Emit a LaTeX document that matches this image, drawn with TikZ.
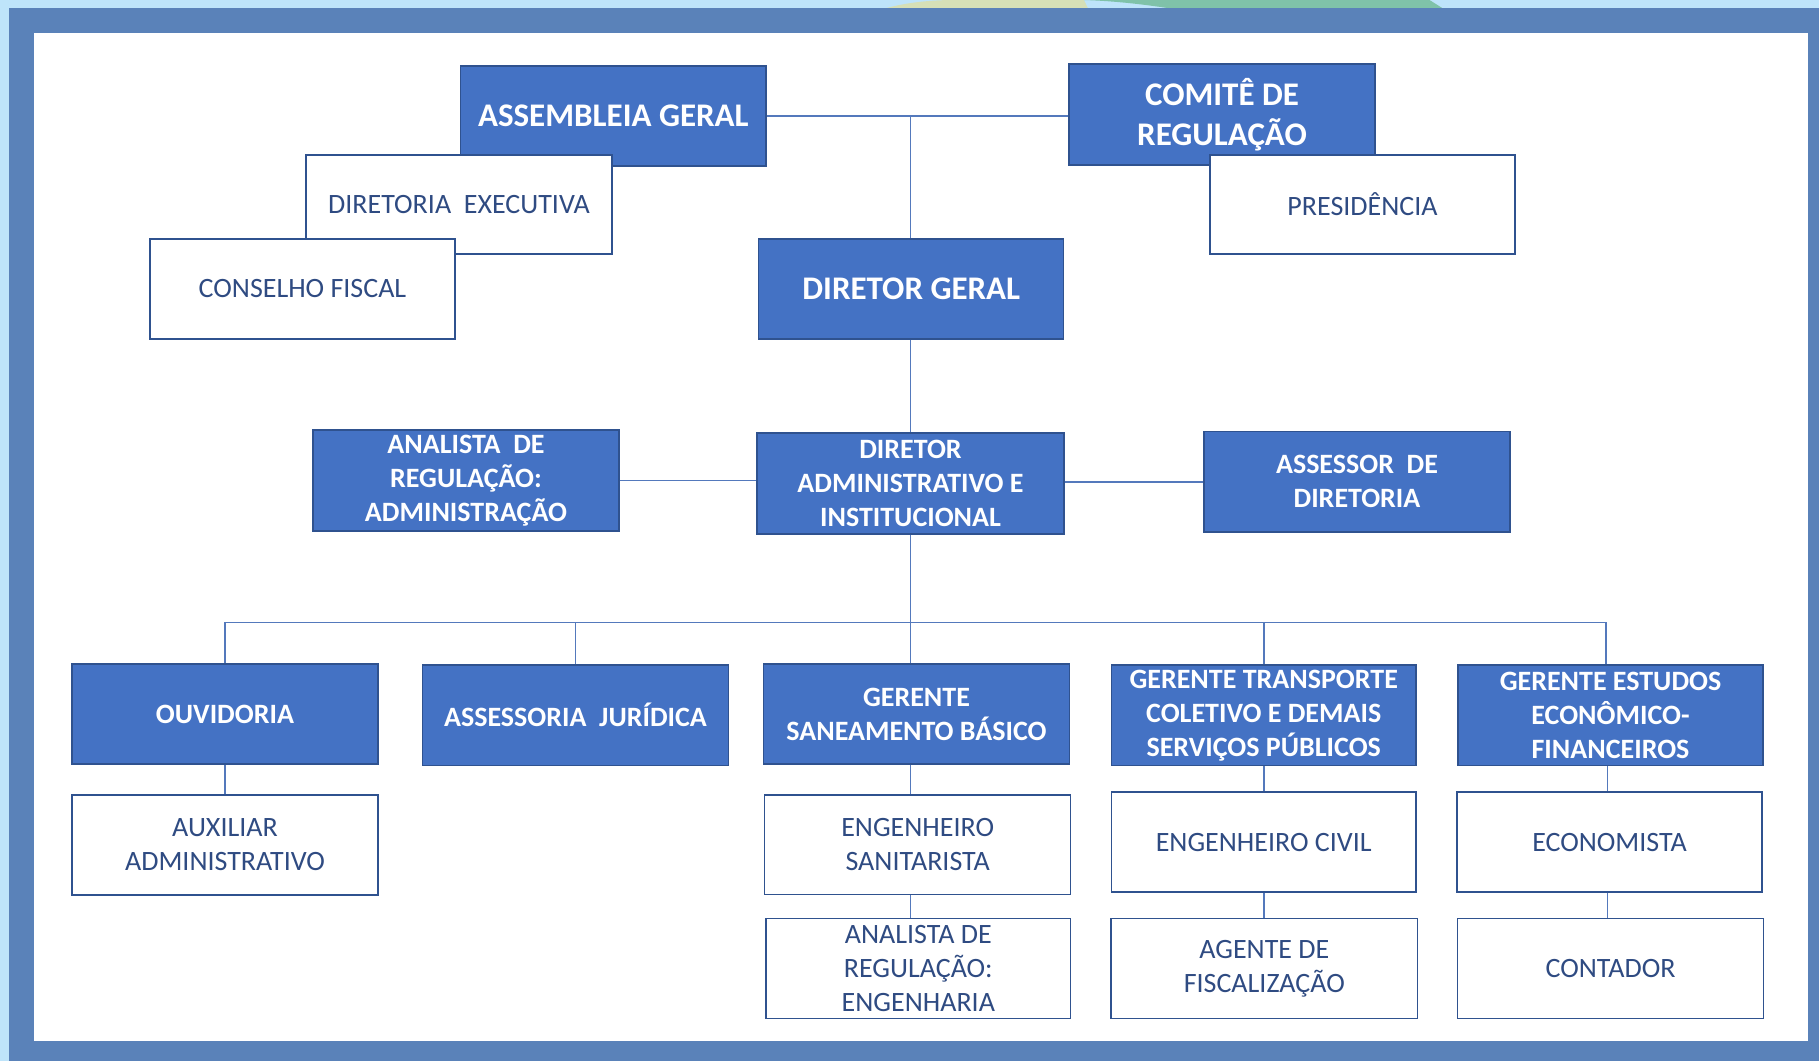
\documentclass[tikz,border=0pt]{standalone}
\usepackage{fontspec}
\setmainfont{Carlito}
\definecolor{bgsky}{HTML}{BEE4FA}
\definecolor{framecol}{HTML}{5A82B9}
\definecolor{shapeyel}{HTML}{D6E0B7}
\definecolor{shapegrn}{HTML}{7FC2A9}
\definecolor{boxblue}{HTML}{4472C4}
\definecolor{boxedge}{HTML}{2F528F}
\definecolor{txtnavy}{HTML}{2F4B82}
\definecolor{linkcol}{HTML}{5479BC}
\begin{document}
\begin{tikzpicture}[x=1pt,y=-1pt,
  boxbase/.style={draw=boxedge, line width=1.3pt, align=center, inner sep=0pt,
    minimum width=306pt, minimum height=100pt},
  bluebox/.style={boxbase, fill=boxblue, text=white, font=\bfseries\fontsize{28}{34}\selectfont},
  topbox/.style={boxbase, fill=boxblue, text=white, font=\bfseries\fontsize{33}{39.5}\selectfont},
  whitebox/.style={boxbase, fill=white, text=txtnavy, font=\fontsize{28}{34}\selectfont},
  link/.style={draw=linkcol, line width=1.6pt}]
\useasboundingbox (0,0) rectangle (1819,1061);
% background and frame
\fill[bgsky] (0,0) rectangle (1819,1061);
\fill[shapeyel] (884.8,8.5) .. controls (905,3) and (925,0.5) .. (950,0) -- (1084,0) -- (1088,8.5) -- cycle;
\fill[shapegrn] (1084,0) .. controls (1115,1) and (1145,4.5) .. (1170.5,8.5) -- (1443,8.5) -- (1429.5,0) -- cycle;
\fill[framecol] (9,8.3) rectangle (1819,1061);
\fill[white] (33.5,33) rectangle (1808,1041);

% top cluster left
\node[topbox, minimum width=305.5pt] (asm) at (613.3,116) {ASSEMBLEIA GERAL};
\node[whitebox, minimum height=99pt] (dirx) at (459,204.5) {DIRETORIA\ \ EXECUTIVA};
\node[whitebox, minimum width=305pt] (cons) at (302.5,289) {CONSELHO FISCAL};
% top cluster right
\node[topbox, minimum height=101pt] (com) at (1222,114.5) {COMITÊ DE\\REGULAÇÃO};
\node[whitebox, minimum width=305pt, minimum height=99pt] (pres) at (1362.5,204.5) {PRESIDÊNCIA};
% diretor geral
\node[topbox, minimum width=305pt] (dg) at (911.3,289) {DIRETOR GERAL};
% row 2
\node[bluebox, minimum height=101pt] (ana) at (466,480.5) {ANALISTA\ \ DE\\REGULAÇÃO:\\ADMINISTRAÇÃO};
\node[bluebox, minimum width=307pt, minimum height=101pt] (dai) at (910.5,483.5) {DIRETOR\\ADMINISTRATIVO E\\INSTITUCIONAL};
\node[bluebox, minimum height=100.5pt] (ass) at (1357,481.7) {ASSESSOR\ \ DE\\DIRETORIA};
% row 3
\node[bluebox] (ouv) at (225,714) {OUVIDORIA};
\node[bluebox, minimum height=100.5pt] (jur) at (575.5,715.2) {ASSESSORIA\ \ JURÍDICA};
\node[bluebox] (san) at (916.5,714) {GERENTE\\SANEAMENTO BÁSICO};
\node[bluebox, minimum width=304.5pt, minimum height=100.5pt] (tra) at (1263.7,715.2) {GERENTE TRANSPORTE\\COLETIVO E DEMAIS\\SERVIÇOS PÚBLICOS};
\node[bluebox, minimum width=305pt, minimum height=100.5pt] (est) at (1610.5,715.2) {GERENTE ESTUDOS\\ECONÔMICO-\\FINANCEIROS};
% row 4
\node[whitebox] (aux) at (225,845) {AUXILIAR\\ADMINISTRATIVO};
\node[whitebox, minimum height=99.5pt] (engs) at (917.7,844.7) {ENGENHEIRO\\SANITARISTA};
\node[whitebox, minimum width=304.5pt] (civ) at (1263.7,842) {ENGENHEIRO CIVIL};
\node[whitebox, minimum width=305pt] (eco) at (1609.5,842) {ECONOMISTA};
% row 5
\node[whitebox, minimum width=304.5pt] (anae) at (918.3,968.5) {ANALISTA DE\\REGULAÇÃO:\\ENGENHARIA};
\node[whitebox, minimum width=306.5pt] (age) at (1264.3,968.5) {AGENTE DE\\FISCALIZAÇÃO};
\node[whitebox] (cont) at (1610.5,968.5) {CONTADOR};

% connectors
\coordinate (bus) at (910.5,622.5);
\coordinate (estx) at ([xshift=-4.5pt]est.north);
\coordinate (ecox) at ([xshift=-2pt]eco.north);
\draw[link] (asm.east) -- (asm.east -| com.west);
\draw[link] (dg.north -| bus) -- (asm.east -| bus);
\draw[link] (dg.south -| bus) -- (dai.north -| bus);
\draw[link] (ana.east |- 0,480.5) -- (dai.west |- 0,480.5);
\draw[link] (dai.east |- 0,481.7) -- (ass.west |- 0,481.7);
\draw[link] (dai.south -| bus) -- (san.north -| bus);
\draw[link] (ouv.north) -- (ouv.north |- bus) -- (estx |- bus) -- (estx);
\draw[link] (jur.north) -- (jur.north |- bus);
\draw[link] (tra.north) -- (tra.north |- bus);
\draw[link] (ouv.south) -- (aux.north);
\draw[link] (san.south -| bus) -- (engs.north -| bus);
\draw[link] (engs.south -| bus) -- (anae.north -| bus);
\draw[link] (tra.south) -- (civ.north -| tra.south);
\draw[link] (civ.south) -- (age.north -| civ.south);
\draw[link] (est.south -| ecox) -- (ecox);
\draw[link] (eco.south -| ecox) -- (cont.north -| ecox);
\end{tikzpicture}
\end{document}
